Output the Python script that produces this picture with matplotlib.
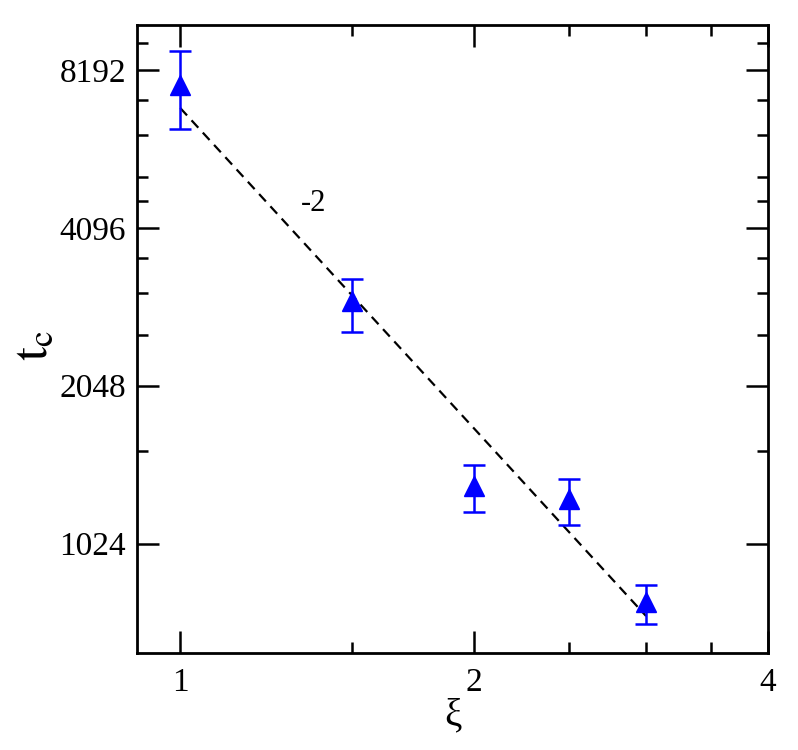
import matplotlib
matplotlib.use('Agg')
import matplotlib.pyplot as plt
from matplotlib.ticker import FixedLocator, NullFormatter

# данные
xi = [1.0, 1.5, 2.0, 2.5, 3.0]
tc = [7660, 2973, 1318, 1245, 791]
tc_hi = [8900, 3274, 1444, 1358, 853]
tc_lo = [6316, 2596, 1176, 1113, 720]

# пунктирная линия наклона -2
fit_x = [1.0, 3.0]
fit_y = [6930, 745]

x_major = [1, 2, 4]
x_minor = [1.5, 2.5, 3, 3.5]
y_major = [1024, 2048, 4096, 8192]
y_minor = [1536, 2560, 3072, 3584, 4608, 5120, 6144, 7168, 9216]

plt.rcParams['font.family'] = ['Liberation Serif', 'DejaVu Serif']
plt.rcParams['mathtext.fontset'] = 'stix'

fig = plt.figure(figsize=(7.98, 7.5), dpi=100)
ax = fig.add_axes([0.1717, 0.1287, 0.7907, 0.838])

ax.set_xscale('log', base=2)
ax.set_yscale('log', base=2)

err_lo = [v - l for v, l in zip(tc, tc_lo)]
err_hi = [h - v for v, h in zip(tc, tc_hi)]

ax.plot(fit_x, fit_y, color='black', linestyle=(0, (4.5, 3)), linewidth=1.6)
ax.errorbar(xi, tc, yerr=[err_lo, err_hi], fmt='^', color='blue',
            markersize=14, elinewidth=1.8, capsize=8, capthick=1.8)

ax.text(1.368, 4552, '-2', fontsize=22, ha='center', va='center')

ax.set_xlim(0.903, 4)
ax.set_ylim(632, 9980)

ax.xaxis.set_major_locator(FixedLocator(x_major))
ax.xaxis.set_minor_locator(FixedLocator(x_minor))
ax.yaxis.set_major_locator(FixedLocator(y_major))
ax.yaxis.set_minor_locator(FixedLocator(y_minor))
ax.set_xticklabels([str(v) for v in x_major])
ax.set_yticklabels([str(v) for v in y_major])
ax.xaxis.set_minor_formatter(NullFormatter())
ax.yaxis.set_minor_formatter(NullFormatter())

ax.tick_params(which='both', direction='in', top=True, right=True,
               labelsize=24, width=1.8)
ax.tick_params(which='major', length=16, pad=10)
ax.tick_params(axis='y', which='major', pad=8)
ax.tick_params(which='minor', length=8)
for s in ax.spines.values():
    s.set_linewidth(2)

ax.set_xlabel('ξ', fontsize=28)
ax.xaxis.set_label_coords(0.5, -0.07)
ax.set_ylabel(r'$\mathrm{t_c}$', fontsize=36)
ax.yaxis.set_label_coords(-0.125, 0.49)

fig.savefig('out.png', dpi=100)
